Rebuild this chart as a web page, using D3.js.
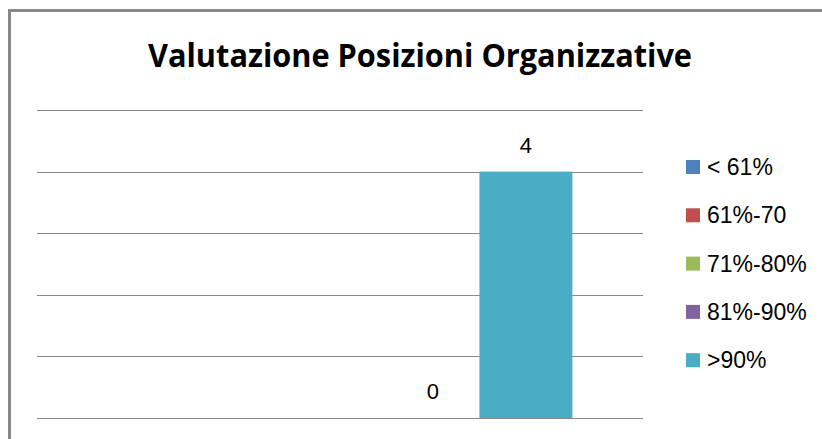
<!DOCTYPE html>
<html>
<head>
<meta charset="utf-8">
<script src="https://cdn.jsdelivr.net/npm/d3@7"></script>
<style>
  body { margin: 0; background: #fff; }
  svg { display: block; }
</style>
</head>
<body>
<div id="viz"></div>
<script>
const chartTitle = 'Valutazione Posizioni Organizzative';
const categories = ['Posizioni Organizzative'];
const seriesNames = ['< 61%', '61%-70', '71%-80%', '81%-90%', '>90%'];
const seriesColors = ['#4F81BD', '#C0504D', '#9BBB59', '#8064A2', '#4BACC6'];
// null = no value (no bar, no label)
const seriesValues = [null, null, null, 0, 4];
const yTicks = [0, 1, 2, 3, 4, 5];

const width = 822;
const height = 439;
const margin = { top: 110, right: 179, bottom: 21, left: 37 };

const svg = d3.select('#viz').append('svg')
  .attr('width', width)
  .attr('height', height);

// outer chart border (cropped on right and bottom)
svg.append('rect')
  .attr('x', 9.5).attr('y', 10.5)
  .attr('width', width + 20).attr('height', height + 20)
  .attr('fill', 'none')
  .attr('stroke', '#888')
  .attr('stroke-width', 3);

svg.append('text')
  .attr('x', 420)
  .attr('y', 67)
  .attr('text-anchor', 'middle')
  .attr('font-family', 'Open Sans, sans-serif')
  .attr('font-weight', 'bold')
  .attr('font-size', 32)
  .attr('textLength', 544)
  .attr('lengthAdjust', 'spacingAndGlyphs')
  .attr('fill', '#000')
  .text(chartTitle);

const plotW = width - margin.left - margin.right;
const plotH = height - margin.top - margin.bottom;
const g = svg.append('g').attr('transform', `translate(${margin.left},${margin.top})`);

const y = d3.scaleLinear().domain([0, 5]).range([plotH, 0]);
const x0 = d3.scaleBand().domain(categories).range([0, plotW]).paddingInner(0).paddingOuter(0.152);
const x1 = d3.scaleBand().domain(seriesNames).range([0, x0.bandwidth()]).padding(0);

// gridlines
g.append('g').selectAll('line')
  .data(yTicks)
  .join('line')
  .attr('x1', 0).attr('x2', plotW)
  .attr('y1', d => Math.round(y(d)) + 0.5)
  .attr('y2', d => Math.round(y(d)) + 0.5)
  .attr('stroke', '#888')
  .attr('stroke-width', 1.2);

const data = seriesNames.map((s, i) => ({ series: s, value: seriesValues[i], color: seriesColors[i] }));

const grp = g.append('g').attr('transform', `translate(${x0(categories[0])},0)`);

grp.selectAll('rect')
  .data(data.filter(d => d.value !== null))
  .join('rect')
  .attr('x', d => x1(d.series))
  .attr('width', x1.bandwidth())
  .attr('y', d => y(d.value))
  .attr('height', d => y(0) - y(d.value))
  .attr('fill', d => d.color);

grp.selectAll('text.val')
  .data(data.filter(d => d.value !== null))
  .join('text')
  .attr('class', 'val')
  .attr('x', d => x1(d.series) + x1.bandwidth() / 2)
  .attr('y', d => y(d.value) - 19)
  .attr('text-anchor', 'middle')
  .attr('font-family', 'Liberation Sans, Arial, sans-serif')
  .attr('font-size', 22)
  .attr('fill', '#000')
  .text(d => d.value);

// legend
const legend = svg.append('g').attr('transform', 'translate(686,160)');
const item = legend.selectAll('g')
  .data(data)
  .join('g')
  .attr('transform', (d, i) => `translate(0,${i * 48.3})`);

item.append('rect')
  .attr('width', 14).attr('height', 14)
  .attr('fill', d => d.color);

item.append('text')
  .attr('x', 21)
  .attr('y', 15)
  .attr('font-family', 'Liberation Sans, Arial, sans-serif')
  .attr('font-size', 23)
  .attr('fill', '#000')
  .text(d => d.series);
</script>
</body>
</html>
